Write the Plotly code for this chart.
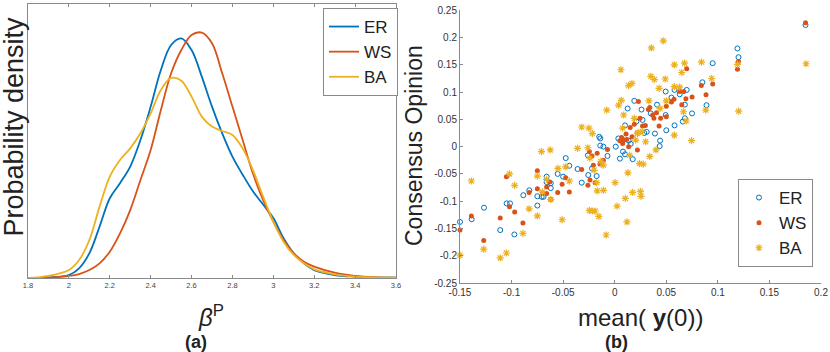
import plotly.graph_objects as go
from plotly.subplots import make_subplots

# (a) kernel density of beta^P
beta_grid = [1.8, 1.9, 2.0, 2.05, 2.1, 2.15, 2.2, 2.25, 2.3, 2.35, 2.4, 2.45, 2.5, 2.55, 2.6, 2.65,
             2.7, 2.75, 2.8, 2.85, 2.9, 2.95, 3.0, 3.05, 3.1, 3.15, 3.2, 3.3, 3.4, 3.5, 3.6]
dens_er = [0, 0.005, 0.022, 0.071, 0.180, 0.375, 0.582, 0.692, 0.813, 1.007, 1.251, 1.518, 1.701, 1.749,
           1.664, 1.470, 1.251, 1.056, 0.886, 0.754, 0.633, 0.536, 0.438, 0.290, 0.180, 0.107, 0.058,
           0.022, 0.010, 0.005, 0.002]
dens_ws = [0, 0.002, 0.015, 0.029, 0.058, 0.107, 0.192, 0.326, 0.496, 0.715, 0.934, 1.226, 1.494, 1.664,
           1.774, 1.791, 1.713, 1.494, 1.251, 1.007, 0.764, 0.569, 0.411, 0.277, 0.180, 0.119, 0.083,
           0.039, 0.015, 0.005, 0.002]
dens_ba = [0, 0.015, 0.058, 0.131, 0.277, 0.521, 0.740, 0.861, 0.946, 1.056, 1.202, 1.372, 1.460, 1.440,
           1.324, 1.178, 1.105, 1.073, 1.044, 0.946, 0.788, 0.594, 0.411, 0.265, 0.168, 0.107, 0.063,
           0.027, 0.010, 0.005, 0.002]
beta_ticks = [1.8, 2, 2.2, 2.4, 2.6, 2.8, 3, 3.2, 3.4, 3.6]

# (b) consensus opinion vs mean initial opinion
er_x = [-0.15, -0.1387, -0.1267, -0.111, -0.1048, -0.1015, -0.0973, -0.0886, -0.0828, -0.075, -0.075,
        -0.0708, -0.069, -0.066, -0.066, -0.062, -0.062, -0.0553, -0.050, -0.0475, -0.044, -0.036,
        -0.032, -0.026, -0.0256, -0.022, -0.0175, -0.015, -0.014, -0.014, -0.011, -0.007, 0.001,
        0.0035, 0.005, 0.008, 0.010, 0.010, 0.0125, 0.0135, 0.0155, 0.0175, 0.019, 0.021, 0.026,
        0.027, 0.0287, 0.031, 0.035, 0.039, 0.041, 0.0436, 0.044, 0.0494, 0.0494, 0.050, 0.055,
        0.058, 0.058, 0.063, 0.066, 0.068, 0.068, 0.0698, 0.075, 0.085, 0.089, 0.095, 0.119, 0.120,
        0.185]
er_y = [-0.138, -0.133, -0.112, -0.153, -0.104, -0.104, -0.161, -0.089, -0.080, -0.091, -0.108,
        -0.092, -0.092, -0.055, -0.065, -0.076, -0.067, -0.050, -0.055, -0.021, -0.035, -0.041,
        -0.066, -0.016, -0.052, -0.040, -0.054, 0.018, 0.015, 0.002, 0.0, -0.017, 0.0,
        0.015, -0.022, -0.009, 0.039, -0.014, 0.070, 0.011, 0.005, -0.023, 0.084, 0.046, 0.068,
        0.049, 0.025, 0.027, 0.061, 0.024, 0.077, 0.001, 0.011, 0.058, 0.101, 0.030, 0.090,
        0.039, 0.104, 0.096, 0.046, 0.052, 0.077, 0.104, 0.061, 0.118, 0.076, 0.153, 0.180, 0.164,
        0.223]

ws_x = [-0.15, -0.139, -0.127, -0.111, -0.105, -0.102, -0.097, -0.089, -0.083, -0.075, -0.075,
        -0.070, -0.066, -0.066, -0.063, -0.062, -0.0553, -0.051, -0.0475, -0.044, -0.032, -0.026,
        -0.0246, -0.024, -0.022, -0.0207, -0.019, -0.017, -0.0143, -0.011, -0.007, 0.005, 0.0067,
        0.0077, 0.009, 0.011, 0.0116, 0.0135, 0.015, 0.0168, 0.019, 0.022, 0.023, 0.0245, 0.027,
        0.0297, 0.0326, 0.034, 0.0368, 0.038, 0.0405, 0.043, 0.0445, 0.050, 0.050, 0.055, 0.0575,
        0.063, 0.065, 0.067, 0.069, 0.0698, 0.075, 0.084, 0.0885, 0.095, 0.119, 0.120, 0.185]
ws_y = [-0.153, -0.127, -0.172, -0.131, -0.055, -0.110, -0.120, -0.140, -0.084, -0.044, -0.077,
        -0.085, -0.074, -0.086, -0.065, -0.097, -0.084, -0.069, -0.057, -0.083, -0.042, -0.071,
        -0.009, -0.061, -0.017, -0.034, -0.066, -0.012, -0.032, -0.025, -0.005, 0.011, 0.017,
        0.006, 0.012, 0.023, 0.013, 0.0, 0.035, 0.018, 0.041, -0.006, 0.083, 0.052, 0.038,
        0.039, 0.068, 0.072, 0.058, 0.052, 0.062, 0.038, 0.052, 0.074, 0.055, 0.082, 0.087,
        0.101, 0.077, 0.101, 0.088, 0.143, 0.091, 0.112, 0.095, 0.115, 0.142, 0.156, 0.227]

ba_x = [-0.15, -0.139, -0.127, -0.111, -0.105, -0.102, -0.097, -0.089, -0.083, -0.075, -0.075,
        -0.071, -0.070, -0.066, -0.0625, -0.062, -0.055, -0.051, -0.0475, -0.044, -0.036, -0.032,
        -0.026, -0.025, -0.0245, -0.024, -0.0217, -0.0217, -0.020, -0.019, -0.0175, -0.017, -0.0154,
        -0.0134, -0.011, -0.0109, -0.0083, -0.0077, 0.0004, 0.0023, 0.0038, 0.006, 0.0064, 0.0077,
        0.0087, 0.0103, 0.0119, 0.0128, 0.0135, 0.0145, 0.0167, 0.0174, 0.019, 0.0203, 0.022,
        0.0227, 0.024, 0.025, 0.0255, 0.0268, 0.0277, 0.030, 0.0332, 0.034, 0.035, 0.0355, 0.0384,
        0.040, 0.043, 0.0439, 0.0471, 0.049, 0.050, 0.0578, 0.0578, 0.0578, 0.063, 0.065, 0.0667,
        0.0677, 0.0693, 0.0745, 0.0841, 0.0883, 0.094, 0.119, 0.1202, 0.1855]
ba_y = [-0.199, -0.063, -0.188, -0.204, -0.195, -0.050, -0.071, -0.159, -0.114, -0.127, -0.054,
        -0.009, -0.083, -0.060, -0.006, -0.097, -0.040, -0.134, -0.037, -0.063, -0.003, 0.036,
        -0.002, 0.034, -0.117, -0.021, -0.118, 0.024, -0.043, -0.118, -0.066, -0.081, -0.128,
        -0.027, -0.034, -0.080, -0.162, 0.067, -0.066, -0.109, 0.076, 0.141, 0.085, 0.034,
        0.058, -0.095, -0.138, -0.048, 0.112, -0.016, 0.116, -0.084, 0.052, 0.012, 0.024,
        0.026, -0.031, -0.082, -0.091, 0.028, -0.032, 0.009, 0.084, -0.018, 0.129, 0.181, 0.123,
        -0.006, 0.107, 0.070, 0.194, 0.124, 0.084, 0.150, 0.021, 0.110, 0.109, 0.136, 0.064,
        0.153, 0.047, 0.011, 0.155, 0.067, 0.125, 0.151, 0.065, 0.152]

mx_ticks = [-0.15, -0.1, -0.05, 0, 0.05, 0.1, 0.15, 0.2]
mx_labels = ["-0.15", "-0.1", "-0.05", "0", "0.05", "0.1", "0.15", "0.2"]
co_ticks = [0.25, 0.2, 0.15, 0.1, 0.05, 0, -0.05, -0.1, -0.15, -0.2, -0.25]
co_labels = ["0.25", "0.2", "0.15", "0.1", "0.05", "0", "-0.05", "-0.1", "-0.15", "-0.2", "-0.25"]

BLUE, RED, YEL = "#0072BD", "#D95319", "#EDB120"
FONT = "Liberation Sans, Arial, sans-serif"
AX = "#8a8a8a"
W, H = 830, 352

fig = make_subplots(rows=1, cols=2)

for name, ys, c in [("ER", dens_er, BLUE), ("WS", dens_ws, RED), ("BA", dens_ba, YEL)]:
    fig.add_trace(go.Scatter(name=name, x=beta_grid, y=ys, mode="lines", line=dict(color=c, width=1.8, shape="spline"),
                             legend="legend"), row=1, col=1)

fig.add_trace(go.Scatter(name="ER", x=er_x, y=er_y, mode="markers", legend="legend2", cliponaxis=False,
                         marker=dict(symbol="circle-open", size=5, color=BLUE, line=dict(width=1, color=BLUE))), row=1, col=2)
fig.add_trace(go.Scatter(name="WS", x=ws_x, y=ws_y, mode="markers", legend="legend2", cliponaxis=False,
                         marker=dict(symbol="circle", size=5, color=RED)), row=1, col=2)
fig.add_trace(go.Scatter(name="BA", x=ba_x, y=ba_y, mode="markers", legend="legend2", cliponaxis=False,
                         marker=dict(symbol="asterisk-open", size=6, color=YEL, line=dict(width=1.2, color=YEL))), row=1, col=2)

fig.update_xaxes(automargin=False, showgrid=False, zeroline=False)
fig.update_yaxes(automargin=False, showgrid=False, zeroline=False)

fig.update_xaxes(domain=[28 / W, 396 / W], range=[1.8, 3.6], tickvals=beta_ticks, ticks="inside", ticklen=3,
                 tickcolor=AX, showline=True, linecolor=AX, mirror="ticks",
                 tickfont=dict(size=7.5, color="#444", family=FONT), row=1, col=1)
fig.update_yaxes(domain=[1 - 278 / H, 1 - 4 / H], range=[0, 2.0], showticklabels=False, ticks="",
                 showline=True, linecolor=AX, mirror=True, row=1, col=1)

fig.update_xaxes(domain=[460 / W, 821 / W], range=[-0.15, 0.2], tickvals=mx_ticks, ticktext=mx_labels,
                 ticks="inside", ticklen=3, tickcolor=AX, showline=True, linecolor=AX,
                 tickfont=dict(size=10, color="#333", family=FONT), row=1, col=2)
fig.update_yaxes(domain=[1 - 283 / H, 1 - 10.3 / H], range=[-0.25, 0.25], tickvals=co_ticks, ticktext=co_labels,
                 ticks="inside", ticklen=3, tickcolor=AX, showline=True, linecolor=AX,
                 tickfont=dict(size=10, color="#333", family=FONT), row=1, col=2)

def ann(text, px, py, size, angle=0, bold=False):
    fig.add_annotation(text=f"<b>{text}</b>" if bold else text, x=px / W, y=1 - py / H, xref="paper", yref="paper",
                       showarrow=False, textangle=angle, xanchor="center", yanchor="middle",
                       font=dict(size=size, color="#222", family=FONT))

ann("Probability density", 13.5, 127, 27, angle=-90)
ann("<i>β</i><sup>P</sup>", 211, 316, 24)
ann("(a)", 196, 342, 18, bold=True)
ann("Consensus Opinion", 414, 146, 23, angle=-90)
ann("mean( <b>y</b>(0))", 640, 317, 24)
ann("(b)", 616, 342, 18, bold=True)

fig.update_layout(
    width=W, height=H, margin=dict(l=0, r=0, t=0, b=0), plot_bgcolor="white", paper_bgcolor="white",
    font=dict(family=FONT, color="#222"),
    legend=dict(x=323 / W, y=1 - 8 / H, xanchor="left", yanchor="top", bordercolor=AX, borderwidth=1,
                bgcolor="white", font=dict(size=17, family=FONT, color="#222"), tracegroupgap=0, itemwidth=30),
    legend2=dict(x=738 / W, y=1 - 179 / H, xanchor="left", yanchor="top", bordercolor=AX, borderwidth=1,
                 bgcolor="white", font=dict(size=17, family=FONT, color="#222"), tracegroupgap=0),
)

fig.write_html("out.html", config={"displayModeBar": False},
               post_script="document.body.style.margin='0';")
